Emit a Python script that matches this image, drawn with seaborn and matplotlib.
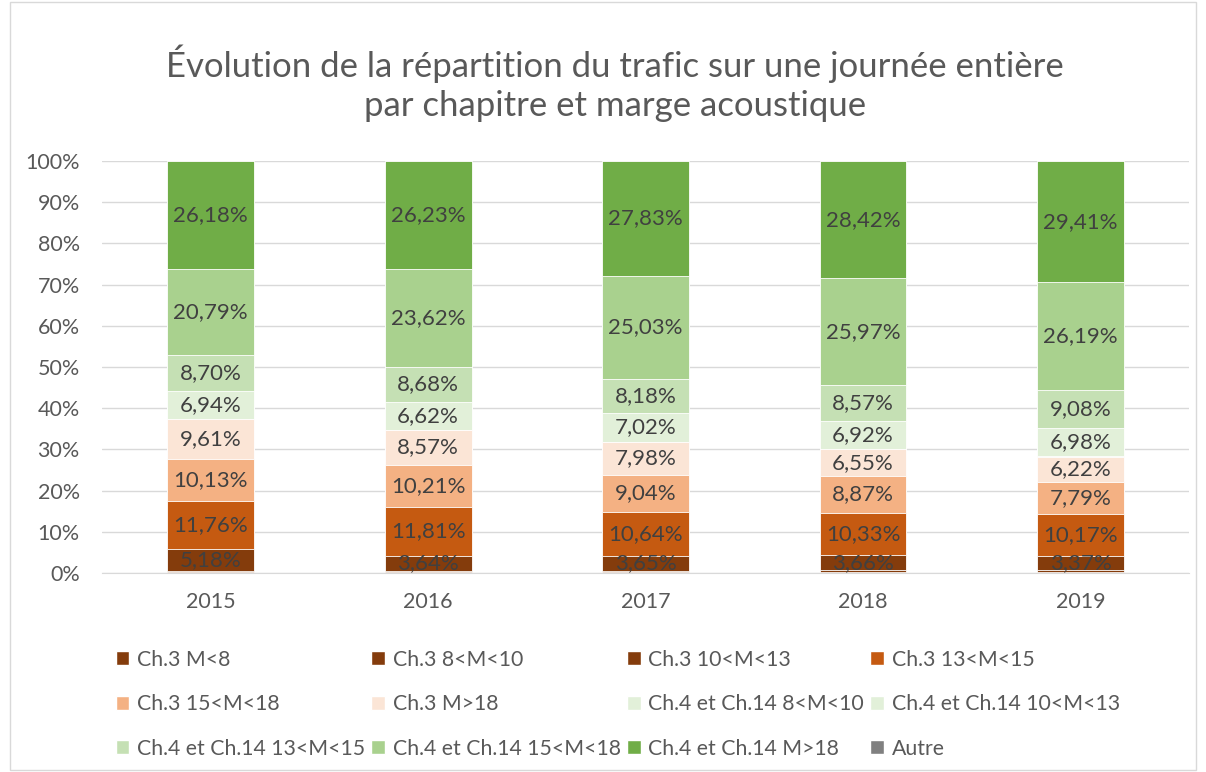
import numpy as np
import pandas as pd
import matplotlib
matplotlib.use("Agg")
import matplotlib.pyplot as plt
from matplotlib.patches import Patch, Rectangle
import seaborn as sns

# Data (percent of daily traffic)
years = ["2015", "2016", "2017", "2018", "2019"]
series = ["Ch.3 M<8", "Ch.3 8<M<10", "Ch.3 10<M<13", "Ch.3 13<M<15",
          "Ch.3 15<M<18", "Ch.3 M>18", "Ch.4 et Ch.14 8<M<10", "Ch.4 et Ch.14 10<M<13",
          "Ch.4 et Ch.14 13<M<15", "Ch.4 et Ch.14 15<M<18", "Ch.4 et Ch.14 M>18", "Autre"]
ch3_m8 = [0.20, 0.15, 0.15, 0.20, 0.25]
ch3_8_10 = [0.40, 0.40, 0.40, 0.42, 0.45]
ch3_10_13 = [5.18, 3.64, 3.65, 3.66, 3.37]
ch3_13_15 = [11.76, 11.81, 10.64, 10.33, 10.17]
ch3_15_18 = [10.13, 10.21, 9.04, 8.87, 7.79]
ch3_18 = [9.61, 8.57, 7.98, 6.55, 6.22]
ch4_8_10 = [0.05, 0.03, 0.04, 0.05, 0.05]
ch4_10_13 = [6.94, 6.62, 7.02, 6.92, 6.98]
ch4_13_15 = [8.70, 8.68, 8.18, 8.57, 9.08]
ch4_15_18 = [20.79, 23.62, 25.03, 25.97, 26.19]
ch4_18 = [26.18, 26.23, 27.83, 28.42, 29.41]
autre = [0.06, 0.04, 0.04, 0.04, 0.04]

values = [ch3_m8, ch3_8_10, ch3_10_13, ch3_13_15, ch3_15_18, ch3_18,
          ch4_8_10, ch4_10_13, ch4_13_15, ch4_15_18, ch4_18, autre]
colors = ["#843C0C", "#843C0C", "#843C0C", "#C55A11", "#F4B183", "#FBE5D6",
          "#E2F0D9", "#E2F0D9", "#C5E0B4", "#A9D18E", "#70AD47", "#808080"]
# only these segments carry a data label
labelled = {2, 3, 4, 5, 7, 8, 9, 10}

sns.set_style("white")
plt.rcParams["font.family"] = ["Lato", "DejaVu Sans"]

df = pd.DataFrame(np.array(values).T, columns=series)
df.insert(0, "year", years)
cum = df[series].cumsum(axis=1)

fig = plt.figure(figsize=(12.06, 7.72), dpi=100)
ax = fig.add_axes([0.0846, 0.2578, 0.9014, 0.5337])

# draw cumulative totals from the top down so each segment shows its own share
for i in range(len(series) - 1, -1, -1):
    tmp = pd.DataFrame({"year": years, "top": cum[series[i]]})
    sns.barplot(data=tmp, x="year", y="top", color=colors[i], width=0.4,
                edgecolor="white", linewidth=0.6, saturation=1, ax=ax, zorder=2)

for i in labelled:
    for j in range(len(years)):
        v = values[i][j]
        y = cum[series[i]][j] - v / 2
        ax.text(j, y, f"{v:.2f}%".replace(".", ","), ha="center", va="center",
                fontsize=16, color="#404040", zorder=3)

ax.set_ylim(0, 100)
ax.set_xlim(-0.5, 4.5)
ax.set_yticks(np.arange(0, 101, 10))
ax.set_yticklabels([f"{t}%" for t in range(0, 101, 10)])
ax.yaxis.grid(True, color="#D9D9D9", linewidth=1, zorder=0)
ax.set_axisbelow(True)
ax.set_xlabel("")
ax.set_ylabel("")
for s in ["top", "right", "left"]:
    ax.spines[s].set_visible(False)
ax.spines["bottom"].set_color("#D9D9D9")
ax.tick_params(axis="both", length=0, labelsize=15.5, labelcolor="#595959")
ax.tick_params(axis="x", pad=14)
ax.tick_params(axis="y", pad=16)

fig.text(0.51, 0.892, "Évolution de la répartition du trafic sur une journée entière\npar chapitre et marge acoustique",
         ha="center", va="center", fontsize=25, color="#595959", linespacing=1.25)

handles = [Patch(facecolor=c, label=s) for s, c in zip(series, colors)]
order = [i for c in range(4) for i in range(c, 12, 4)]
fig.legend([handles[i] for i in order], [series[i] for i in order], ncol=4,
           loc="upper left", bbox_to_anchor=(0.08, 0.183), frameon=False,
           fontsize=15.3, labelcolor="#595959", handlelength=0.65, handleheight=0.65,
           handletextpad=0.35, columnspacing=0.3, labelspacing=1.15)

fig.patches.append(Rectangle((0.008, 0.003), 0.984, 0.994, transform=fig.transFigure,
                             fill=False, edgecolor="#D9D9D9", linewidth=1))

fig.savefig("out.png", dpi=100)
